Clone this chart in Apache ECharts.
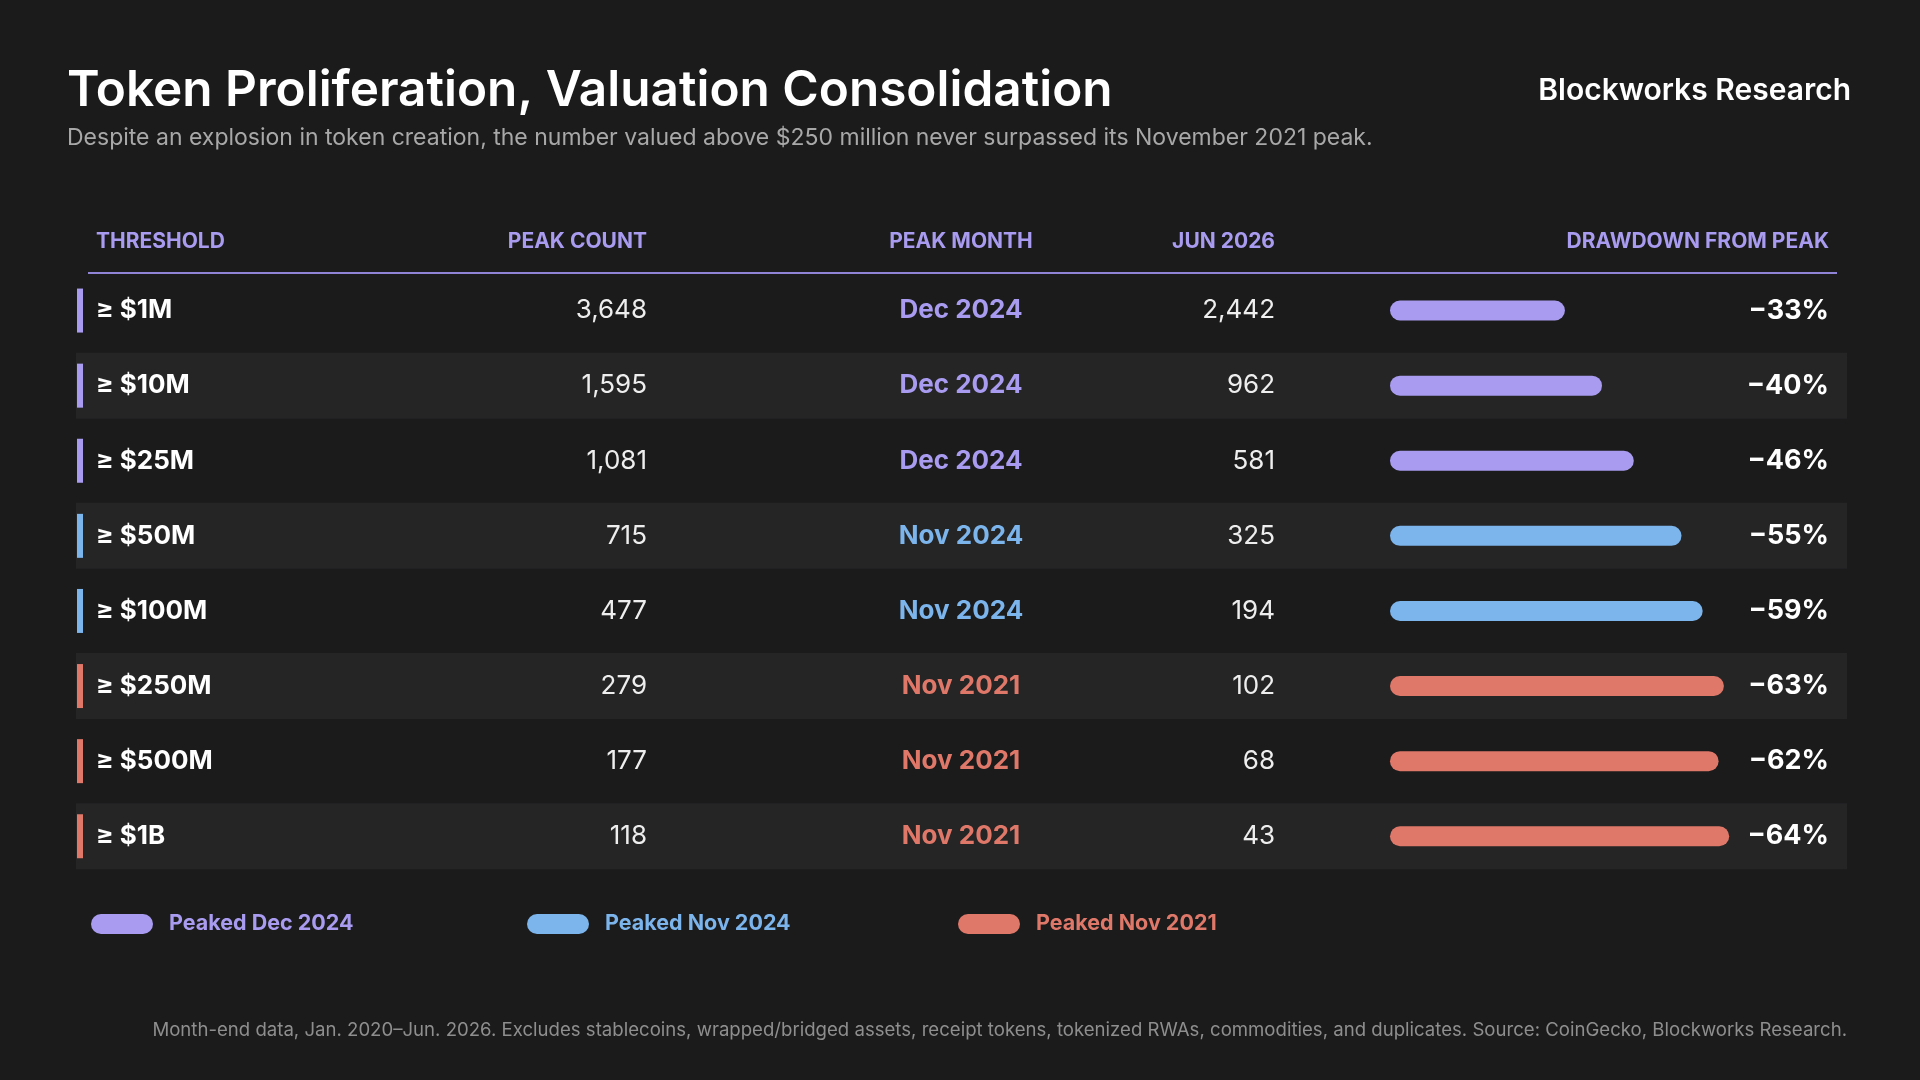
<!DOCTYPE html>
<html><head><meta charset="utf-8">
<script src="https://cdn.jsdelivr.net/npm/echarts@6/dist/echarts.min.js"></script>
<style>html,body{margin:0;padding:0;background:#1b1b1c}#c{width:1920px;height:1080px}</style>
</head><body><div id="c"></div>
<script>
const thresholds = ['≥ $1M','≥ $10M','≥ $25M','≥ $50M','≥ $100M','≥ $250M','≥ $500M','≥ $1B'];
const peakCount = [3648,1595,1081,715,477,279,177,118];
const peakMonth = ['Dec 2024','Dec 2024','Dec 2024','Nov 2024','Nov 2024','Nov 2021','Nov 2021','Nov 2021'];
const jun2026 = [2442,962,581,325,194,102,68,43];
const drawdown = [-33,-40,-46,-55,-59,-63,-62,-64];
const groupColors = {'Dec 2024':'#a99cf0','Nov 2024':'#7cb4ec','Nov 2021':'#e0786a'};
const legendLabels = ['Peaked Dec 2024','Peaked Nov 2024','Peaked Nov 2021'];
const headers = ['THRESHOLD','PEAK COUNT','PEAK MONTH','JUN 2026','DRAWDOWN FROM PEAK'];

const F = 'Inter, "Noto Sans", sans-serif';
const fmt = n => n.toLocaleString('en-US');
const data = thresholds.map((t,i)=>[Math.abs(drawdown[i]), i]);
const chart = echarts.init(document.getElementById('c'));
const rowH = 75.1;
chart.setOption({
  backgroundColor:'#1b1b1c',
  animation:false,
  grid:{left:1390,width:530,top:273,height:rowH*8},
  xAxis:{type:'value',min:0,max:100,show:false},
  yAxis:{type:'category',data:thresholds,inverse:true,show:false},
  series:[{
    type:'custom',clip:false,data:data,
    renderItem:(params,api)=>{
      const i = api.value(1);
      const end = api.coord([api.value(0), i]);
      const start = api.coord([0, i]);
      const cy = end[1];
      const col = groupColors[peakMonth[i]];
      const ch = [];
      if(i%2===1) ch.push({type:'rect',shape:{x:76,y:cy-33,width:1771,height:66},style:{fill:'#252526'}});
      ch.push({type:'rect',shape:{x:77,y:cy-22,width:6,height:44},style:{fill:col}});
      ch.push({type:'text',x:96,y:cy,style:{text:thresholds[i],fill:'#fff',font:'bold 26px '+F,verticalAlign:'middle'}});
      ch.push({type:'text',x:647,y:cy,style:{text:fmt(peakCount[i]),fill:'#eee',font:'26px '+F,align:'right',verticalAlign:'middle'}});
      ch.push({type:'text',x:961,y:cy,style:{text:peakMonth[i],fill:col,font:'bold 26px '+F,align:'center',verticalAlign:'middle'}});
      ch.push({type:'text',x:1275,y:cy,style:{text:fmt(jun2026[i]),fill:'#eee',font:'26px '+F,align:'right',verticalAlign:'middle'}});
      ch.push({type:'rect',shape:{x:start[0],y:cy-10,width:end[0]-start[0],height:20,r:10},style:{fill:col}});
      ch.push({type:'text',x:1829,y:cy,style:{text:'\u2212'+Math.abs(drawdown[i])+'%',fill:'#fff',font:'bold 27px '+F,align:'right',verticalAlign:'middle'}});
      return {type:'group',children:ch};
    }
  }],
  graphic:[
    {type:'text',left:67,top:66,style:{text:'Token Proliferation, Valuation Consolidation',fill:'#fff',font:'600 49.5px '+F}},
    {type:'text',left:67,top:127,style:{text:'Despite an explosion in token creation, the number valued above $250 million never surpassed its November 2021 peak.',fill:'#a8a8a8',font:'23px '+F}},
    {type:'text',right:69,top:76,style:{text:'Blockworks Research',fill:'#fff',font:'600 30px '+F}},
    {type:'text',x:96,y:242,style:{text:headers[0],fill:'#a99cf0',font:'bold 21px '+F,verticalAlign:'middle'}},
    {type:'text',x:647,y:242,style:{text:headers[1],fill:'#a99cf0',font:'bold 21px '+F,align:'right',verticalAlign:'middle'}},
    {type:'text',x:961,y:242,style:{text:headers[2],fill:'#a99cf0',font:'bold 21px '+F,align:'center',verticalAlign:'middle'}},
    {type:'text',x:1275,y:242,style:{text:headers[3],fill:'#a99cf0',font:'bold 21px '+F,align:'right',verticalAlign:'middle'}},
    {type:'text',x:1829,y:242,style:{text:headers[4],fill:'#a99cf0',font:'bold 21px '+F,align:'right',verticalAlign:'middle'}},
    {type:'rect',shape:{x:88,y:272,width:1749,height:2},style:{fill:'#8f84d6'}},
    ...legendLabels.flatMap((l,k)=>{
      const px=[91,527,958][k], tx=[169,605,1036][k];
      const c=Object.values(groupColors)[k];
      return [
        {type:'rect',shape:{x:px,y:914,width:62,height:20,r:10},style:{fill:c}},
        {type:'text',x:tx,y:924,style:{text:l,fill:c,font:'bold 21.5px '+F,verticalAlign:'middle'}}
      ];
    }),
    {type:'text',right:73,top:1021,style:{text:'Month-end data, Jan. 2020–Jun. 2026. Excludes stablecoins, wrapped/bridged assets, receipt tokens, tokenized RWAs, commodities, and duplicates. Source: CoinGecko, Blockworks Research.',fill:'#8e8e8e',font:'18.6px '+F}}
  ]
});
</script></body></html>
